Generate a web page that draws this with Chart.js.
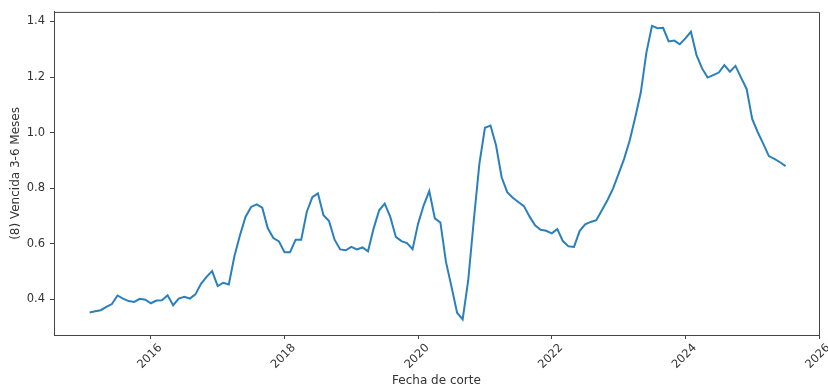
<!DOCTYPE html>
<html>
<head>
<meta charset="utf-8">
<script src="https://cdn.jsdelivr.net/npm/chart.js@4/dist/chart.umd.min.js"></script>
<style>
  html, body { margin: 0; padding: 0; background: #ffffff; }
  #wrap { width: 828px; height: 388px; }
</style>
</head>
<body>
<div id="wrap"><canvas id="c" width="828" height="388"></canvas></div>
<script>
// Monthly series, one value per month-end starting January 2015
const startYear = 2015;
const values = [
  0.352, 0.356, 0.360, 0.372, 0.382, 0.413, 0.402, 0.393, 0.390, 0.401, 0.398, 0.385,
  0.395, 0.396, 0.414, 0.378, 0.402, 0.408, 0.402, 0.417, 0.455, 0.480, 0.501, 0.447,
  0.459, 0.453, 0.554, 0.630, 0.696, 0.732, 0.741, 0.729, 0.655, 0.620, 0.608, 0.569,
  0.569, 0.614, 0.614, 0.714, 0.767, 0.781, 0.702, 0.681, 0.614, 0.579, 0.576, 0.588,
  0.579, 0.586, 0.572, 0.654, 0.720, 0.744, 0.696, 0.624, 0.609, 0.602, 0.580, 0.672,
  0.738, 0.789, 0.691, 0.676, 0.534, 0.444, 0.351, 0.327, 0.468, 0.684, 0.887, 1.017,
  1.025, 0.953, 0.839, 0.785, 0.765, 0.750, 0.735, 0.698, 0.666, 0.650, 0.646, 0.637,
  0.652, 0.609, 0.590, 0.588, 0.645, 0.669, 0.678, 0.684, 0.720, 0.756, 0.798, 0.851,
  0.905, 0.971, 1.055, 1.145, 1.288, 1.384, 1.376, 1.377, 1.328, 1.331, 1.318, 1.339,
  1.363, 1.279, 1.231, 1.198, 1.207, 1.216, 1.243, 1.219, 1.240, 1.198, 1.157, 1.049,
  1.001, 0.959, 0.915, 0.905, 0.893, 0.879
];
const xTicks = [2016, 2018, 2020, 2022, 2024, 2026];
const yTicks = [0.4, 0.6, 0.8, 1.0, 1.2, 1.4];
const xTitle = 'Fecha de corte';
const yTitle = '(8) Vencida 3-6 Meses';

// Period labels (YYYY-MM) and their month-end position in decimal years
const months = values.map((_, i) => {
  const y = startYear + Math.floor(i / 12);
  const m = (i % 12) + 1;
  return y + '-' + String(m).padStart(2, '0');
});
const monthPos = months.map(s => {
  const [y, m] = s.split('-').map(Number);
  return y + m / 12;
});

const FONT = 'DejaVu Sans';
const TICK_SIZE = 11.5;
const TITLE_SIZE = 12;
const TEXT = '#333333';
const AXIS = '#444444';

const decorations = {
  id: 'decorations',
  afterDraw(chart) {
    const ctx = chart.ctx;
    const a = chart.chartArea;
    const xs = chart.scales.x;
    ctx.save();
    // top and right frame lines
    ctx.strokeStyle = AXIS;
    ctx.lineWidth = 1;
    ctx.beginPath();
    ctx.moveTo(a.left, a.top + 0.5);
    ctx.lineTo(a.right + 0.5, a.top + 0.5);
    ctx.lineTo(a.right + 0.5, a.bottom);
    ctx.stroke();

    // rotated year labels, centred under each tick
    ctx.font = TICK_SIZE + 'px "' + FONT + '"';
    ctx.fillStyle = TEXT;
    ctx.textAlign = 'center';
    ctx.textBaseline = 'middle';
    xTicks.forEach(v => {
      const px = xs.getPixelForValue(v);
      const label = String(v);
      const w = ctx.measureText(label).width;
      const half = (w + TICK_SIZE) / (2 * Math.SQRT2);
      ctx.save();
      ctx.translate(px - 1, a.bottom + 4 + 3 + half);
      ctx.rotate(-Math.PI / 4);
      ctx.fillText(label, 0, 0);
      ctx.restore();
    });

    // axis titles
    ctx.font = TITLE_SIZE + 'px "' + FONT + '"';
    ctx.fillText(xTitle, (a.left + a.right) / 2, 381);
    ctx.save();
    ctx.translate(16, (a.top + a.bottom) / 2);
    ctx.rotate(-Math.PI / 2);
    ctx.fillText(yTitle, 0, 0);
    ctx.restore();
    ctx.restore();
  }
};

new Chart(document.getElementById('c'), {
  type: 'line',
  data: {
    datasets: [{
      label: yTitle,
      data: values.map((v, i) => ({ x: monthPos[i], y: v })),
      borderColor: '#2a7fbd',
      borderWidth: 2,
      pointRadius: 0,
      tension: 0,
      fill: false
    }]
  },
  options: {
    responsive: false,
    animation: false,
    devicePixelRatio: 1,
    layout: { padding: { top: 11, right: 9, left: 0, bottom: 0 } },
    plugins: { legend: { display: false }, tooltip: { enabled: false } },
    scales: {
      x: {
        type: 'linear',
        min: 2014.55,
        max: 2026.0,
        afterBuildTicks: s => { s.ticks = xTicks.map(v => ({ value: v })); },
        afterFit: s => { s.height = 53; },
        ticks: { display: false },
        grid: { display: true, drawOnChartArea: false, drawTicks: true, tickLength: 4, color: AXIS, lineWidth: 1 },
        border: { display: true, color: AXIS, width: 1 }
      },
      y: {
        type: 'linear',
        min: 0.2707,
        max: 1.4345,
        afterBuildTicks: s => { s.ticks = yTicks.map(v => ({ value: v })); },
        afterFit: s => { s.width = 54; },
        ticks: {
          display: true,
          padding: 5,
          color: TEXT,
          font: { family: FONT, size: TICK_SIZE },
          callback: v => Number(v).toFixed(1)
        },
        grid: { display: true, drawOnChartArea: false, drawTicks: true, tickLength: 4, color: AXIS, lineWidth: 1 },
        border: { display: true, color: AXIS, width: 1 }
      }
    }
  },
  plugins: [decorations]
});
</script>
</body>
</html>
